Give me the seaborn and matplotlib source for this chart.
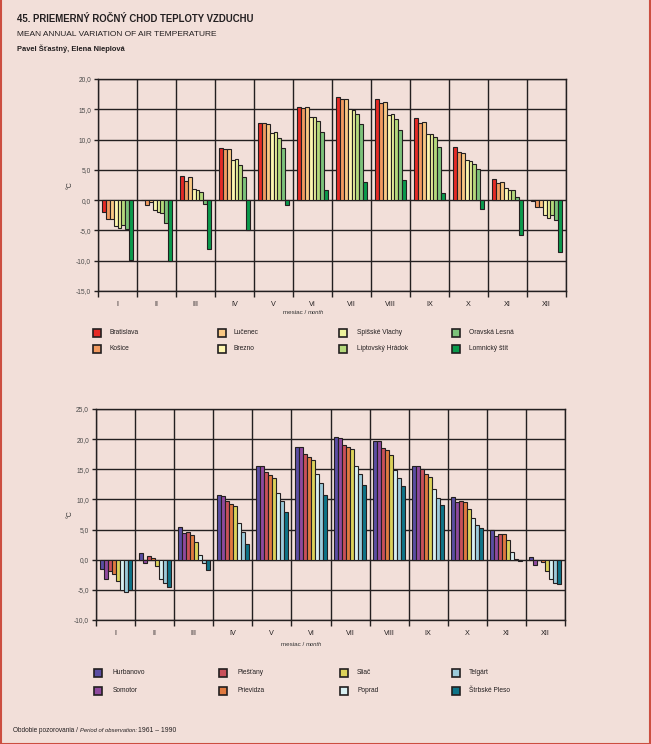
import numpy as np
import pandas as pd
import matplotlib.pyplot as plt
import seaborn as sns
from matplotlib.patches import Rectangle
from matplotlib.lines import Line2D
from matplotlib.ticker import FuncFormatter, MultipleLocator

plt.rcParams['font.family'] = ['Liberation Sans', 'DejaVu Sans']
plt.rcParams['axes.unicode_minus'] = False

BG = '#f2dfd9'
INK = '#231f20'
W, H = 651, 744

# ---------------------------------------------------------------------------
# Data
# ---------------------------------------------------------------------------
months = ['I', 'II', 'III', 'IV', 'V', 'VI', 'VII', 'VIII', 'IX', 'X', 'XI', 'XII']

# horny graf
stations_top = ['Bratislava', 'Košice', 'Lučenec', 'Brezno',
                'Spišské Vlachy', 'Liptovský Hrádok', 'Oravská Lesná', 'Lomnický štít']
colors_top = ['#e52a26', '#f29a60', '#f9c884', '#fdf6b0',
              '#ecf29c', '#b5d97c', '#7cc27a', '#0a9a4c']
bratislava = [-2.0, 0.1, 4.0, 8.6, 12.7, 15.4, 17.1, 16.7, 13.6, 8.8, 3.5, -0.1]
kosice = [-3.1, -0.8, 3.1, 8.5, 12.7, 15.2, 16.7, 16.1, 12.8, 8.0, 2.8, -1.2]
lucenec = [-3.1, -0.3, 3.8, 8.5, 12.6, 15.4, 16.7, 16.2, 12.9, 7.8, 3.0, -1.2]
brezno = [-4.3, -1.7, 1.8, 6.7, 11.1, 13.7, 15.0, 14.0, 10.9, 6.6, 2.0, -2.5]
spisske_vlachy = [-4.6, -2.0, 1.6, 6.8, 11.3, 13.7, 14.9, 14.2, 10.9, 6.5, 1.7, -3.0]
liptovsky_hradok = [-4.1, -2.2, 1.3, 5.8, 10.3, 13.1, 14.2, 13.4, 10.4, 6.0, 1.7, -2.5]
oravska_lesna = [-4.8, -3.8, -0.7, 3.8, 8.6, 11.3, 12.6, 11.6, 8.7, 5.1, 0.6, -3.3]
lomnicky_stit = [-9.8, -10.0, -8.1, -4.9, -0.8, 1.6, 3.0, 3.3, 1.1, -1.5, -5.8, -8.5]
values_top = [bratislava, kosice, lucenec, brezno,
              spisske_vlachy, liptovsky_hradok, oravska_lesna, lomnicky_stit]

# dolny graf
stations_bot = ['Hurbanovo', 'Somotor', 'Piešťany', 'Prievidza',
                'Sliač', 'Poprad', 'Telgárt', 'Štrbské Pleso']
colors_bot = ['#5b4ea3', '#8f4a9e', '#c9505a', '#e07a40',
              '#dcd25a', '#d9f0f2', '#9ccbdb', '#0e7488']
hurbanovo = [-1.5, 1.1, 5.4, 10.7, 15.6, 18.7, 20.3, 19.7, 15.6, 10.4, 4.9, 0.5]
somotor = [-3.2, -0.5, 4.5, 10.5, 15.6, 18.7, 20.2, 19.7, 15.6, 9.6, 4.0, -0.8]
piestany = [-1.8, 0.6, 4.6, 9.7, 14.5, 17.5, 19.0, 18.6, 15.0, 9.8, 4.3, -0.1]
prievidza = [-2.3, 0.3, 4.1, 9.2, 14.1, 17.1, 18.7, 18.2, 14.3, 9.5, 4.2, -0.4]
sliac = [-3.6, -1.1, 3.0, 8.9, 13.6, 16.6, 18.3, 17.4, 13.8, 8.4, 3.3, -1.8]
poprad = [-5.1, -3.2, 0.8, 6.1, 11.0, 14.2, 15.6, 14.9, 11.7, 7.0, 1.3, -3.2]
telgart = [-5.3, -3.8, -0.5, 4.6, 9.7, 12.7, 14.2, 13.5, 10.2, 5.8, 0.2, -3.9]
strbske_pleso = [-5.1, -4.5, -1.7, 2.6, 7.9, 10.7, 12.4, 12.3, 9.0, 5.3, -0.2, -4.0]
values_bot = [hurbanovo, somotor, piestany, prievidza,
              sliac, poprad, telgart, strbske_pleso]


def long_table(stations, values):
    rows = []
    for st, vals in zip(stations, values):
        for m, v in zip(months, vals):
            rows.append({'month': m, 'station': st, 'temp': v})
    return pd.DataFrame(rows)


def fx(x):
    return x / W


def fy(y):
    return 1 - y / H


fig = plt.figure(figsize=(W / 100, H / 100), dpi=100, facecolor=BG)


def draw_panel(box, stations, colors, values, ylim):
    x0, y0, x1, y1 = box
    ax = fig.add_axes([fx(x0), fy(y1), fx(x1) - fx(x0), fy(y0) - fy(y1)])
    ax.set_facecolor(BG)
    df = long_table(stations, values)
    sns.barplot(data=df, x='month', y='temp', hue='station', order=months,
                hue_order=stations, palette=dict(zip(stations, colors)),
                saturation=1, width=0.82, edgecolor=INK, linewidth=0.8,
                legend=False, ax=ax, zorder=3)
    ax.set_xlim(-0.5, 11.5)
    ax.set_ylim(*ylim)
    ax.yaxis.set_major_locator(MultipleLocator(5))
    ax.yaxis.set_major_formatter(FuncFormatter(lambda v, p: f'{v:.1f}'.replace('.', ',')))
    ax.set_xticks(np.arange(12))
    ax.set_xticks(np.arange(-0.5, 12, 1), minor=True)
    ax.set_xlabel('')
    ax.set_ylabel('')
    ax.grid(True, axis='y', which='major', color=INK, lw=1.0, zorder=0)
    ax.grid(True, axis='x', which='minor', color=INK, lw=1.0, zorder=0)
    ax.grid(False, axis='x', which='major')
    ax.set_axisbelow(True)
    for s in ax.spines.values():
        s.set_color(INK)
        s.set_linewidth(1.0)
    ax.tick_params(axis='y', length=3, width=1.0, color=INK, labelsize=4.8,
                   labelcolor='#4a4a4a', pad=2)
    ax.tick_params(axis='x', which='major', length=0, labelsize=5.2,
                   labelcolor=INK, pad=7)
    ax.tick_params(axis='x', which='minor', length=4, width=1.0, color=INK)
    return ax


ax1 = draw_panel((98, 79, 566, 291), stations_top, colors_top, values_top, (-15, 20))
ax2 = draw_panel((96, 409, 565, 620), stations_bot, colors_bot, values_bot, (-10, 25))

# y labels
fig.text(fx(70), fy(185), '°C', rotation=90, ha='center', va='center', fontsize=5, color='#333333')
fig.text(fx(70), fy(514), '°C', rotation=90, ha='center', va='center', fontsize=5, color='#333333')

renderer = fig.canvas.get_renderer()


def chain(x, y, parts, color='#333333'):
    # texty s roznym stylom za sebou
    cur = fx(x)
    for txt, style, size in parts:
        t = fig.text(cur, fy(y), txt, fontsize=size, style=style, color=color,
                     ha='left', va='center')
        bb = t.get_window_extent(renderer=renderer)
        cur += bb.width / W


chain(283, 313, [('mesiac / ', 'normal', 4.5), ('month', 'italic', 4.2)])
chain(281, 645, [('mesiac / ', 'normal', 4.5), ('month', 'italic', 4.2)])

# legendy
def legend(stations, colors, sq_x, txt_x, rows_y):
    for i, (st, col) in enumerate(zip(stations, colors)):
        c, r = divmod(i, 2)
        cx, cy = sq_x[c], rows_y[r]
        fig.patches.append(Rectangle((fx(cx - 4), fy(cy + 4)), 8 / W, 8 / H,
                                     transform=fig.transFigure, facecolor=col,
                                     edgecolor=INK, lw=1.2))
        fig.text(fx(txt_x[c]), fy(cy), st, fontsize=4.8, color=INK,
                 ha='left', va='center')


legend(stations_top, colors_top, [97, 222, 343, 456], [109, 234, 357, 469], [333, 349])
legend(stations_bot, colors_bot, [98, 223, 344, 456], [113, 238, 357, 469], [673, 691])

# nadpisy
fig.text(fx(17), fy(19), '45. PRIEMERNÝ ROČNÝ CHOD TEPLOTY VZDUCHU', fontsize=6.9,
         fontweight='bold', color=INK, ha='left', va='center')
fig.text(fx(17), fy(34), 'MEAN ANNUAL VARIATION OF AIR TEMPERATURE', fontsize=6.0,
         color=INK, ha='left', va='center')
fig.text(fx(17), fy(49), 'Pavel Šťastný, Elena Nieplová', fontsize=5.4,
         fontweight='bold', color=INK, ha='left', va='center')

chain(13, 731, [('Obdobie pozorovania / ', 'normal', 4.7),
                ('Period of observation: ', 'italic', 4.2),
                ('1961 – 1990', 'normal', 4.9)], color=INK)

# ramik
border = '#cc4e40'
fig.lines.append(Line2D([fx(0.5), fx(0.5)], [0, 1], transform=fig.transFigure, color=border, lw=1.5))
fig.lines.append(Line2D([fx(650), fx(650)], [0, 1], transform=fig.transFigure, color=border, lw=1.5))
fig.lines.append(Line2D([0, 1], [fy(743.5), fy(743.5)], transform=fig.transFigure, color=border, lw=1.5))

fig.savefig('out.png', dpi=100, facecolor=BG)
